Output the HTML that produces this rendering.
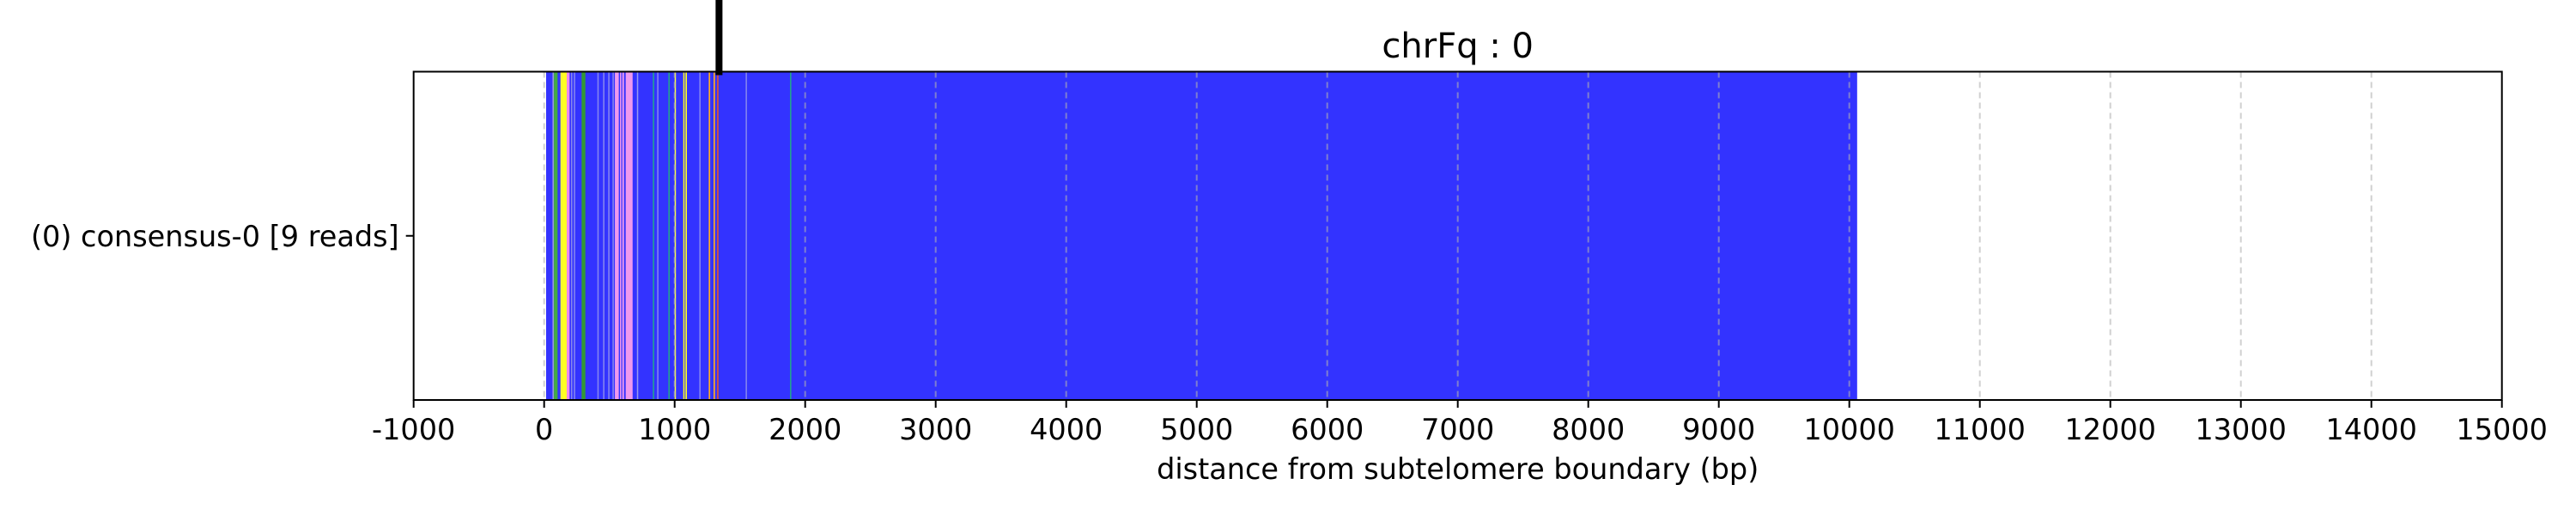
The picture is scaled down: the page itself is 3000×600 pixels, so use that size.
<!DOCTYPE html>
<html><head><meta charset="utf-8"><style>
html,body{margin:0;padding:0;background:#fff;}
svg{display:block;font-family:"DejaVu Sans","Liberation Sans",sans-serif;}
</style></head>
<body>
<svg id="chart" width="3000" height="600" viewBox="0 0 3000 600" xmlns="http://www.w3.org/2000/svg"></svg>
<script>
const xTicks = [-1000,0,1000,2000,3000,4000,5000,6000,7000,8000,9000,10000,11000,12000,13000,14000,15000];
const tickLabels = ["-1000","0","1000","2000","3000","4000","5000","6000","7000","8000","9000","10000","11000","12000","13000","14000","15000"];
const baseStart = 15;
const baseEnd = 10060;
const segStart = [64,75,125,134,173,206,228,287,408,452,491,524,542,581,599,625,711,833,866,952,1000,1066,1083,1189,1261,1298,1325,1544,1884];
const segEnd   = [75,103,134,173,195,210,232,316,412,456,495,528,572,590,612,678,715,837,870,956,1004,1072,1094,1193,1272,1309,1336,1548,1888];
const segColor = ["#9999dd","#44aa44","#ffff33","#ffff22","#ee88ee","#8888ee","#8888ee","#339933","#8888ee","#8888ee","#8888ee","#8888ee","#ee99ee","#ee99ee","#ee99ee","#ee99ee","#9999ee","#22aa88","#8888ee","#22aa88","#ffff44","#ffff22","#ffff22","#8888ee","#ffaa22","#ffaa22","#dd5533","#8888ee","#22aa88"];
const markerPos = 1340;

const NS = "http://www.w3.org/2000/svg";
const svg = document.getElementById("chart");
const L = 481.7, R = 2913.7, T = 83.5, B = 466;
const xMin = -1000, xMax = 15000;
function xs(v){ return L + (v - xMin) / (xMax - xMin) * (R - L); }
function mk(tag, attrs, parent){
  const e = document.createElementNS(NS, tag);
  for (const k in attrs) e.setAttribute(k, attrs[k]);
  (parent || svg).appendChild(e);
  return e;
}
let b = mk("rect", {x: xs(baseStart), y: T, width: xs(baseEnd) - xs(baseStart), height: B - T, fill: "#3333ff"});


for (let i = 0; i < segStart.length; i++) {
  const r = mk("rect", {x: xs(segStart[i]), y: T, width: Math.max(1.5, xs(segEnd[i]) - xs(segStart[i])), height: B - T, fill: segColor[i]});
  
  
}
for (let i = 0; i < xTicks.length; i++) {
  if (xTicks[i] <= xMin || xTicks[i] >= xMax) continue;
  const g = mk("line", {x1: xs(xTicks[i]), x2: xs(xTicks[i]), y1: T, y2: B, stroke: "#b0b0b0", "stroke-opacity": 0.6, "stroke-width": 2, "stroke-dasharray": "7,5"});
  
  
}
const f = mk("rect", {x: L, y: T, width: R - L, height: B - T, fill: "none", stroke: "#000", "stroke-width": 2});


for (let i = 0; i < xTicks.length; i++) {
  const x = xs(xTicks[i]);
  const t = mk("line", {x1: x, x2: x, y1: B, y2: B + 9, stroke: "#000", "stroke-width": 2});
  
  
  const lb = mk("text", {x: x, y: B + 46, "text-anchor": "middle", "font-size": 33.5, fill: "#000"});
  lb.textContent = tickLabels[i];
  
  
}
const yt = mk("line", {x1: L - 9, x2: L, y1: (T + B) / 2, y2: (T + B) / 2, stroke: "#000", "stroke-width": 2});


const yl = mk("text", {x: L - 17, y: (T + B) / 2 + 12, "text-anchor": "end", "font-size": 33.5, fill: "#000"});
yl.textContent = "(0) consensus-0 [9 reads]";


const m = mk("line", {x1: xs(markerPos), x2: xs(markerPos), y1: 0, y2: T + 4, stroke: "#000", "stroke-width": 8});


const ti = mk("text", {x: (L + R) / 2, y: 67, "text-anchor": "middle", "font-size": 40, fill: "#000"});
ti.textContent = "chrFq : 0";


const xl = mk("text", {x: (L + R) / 2, y: 558, "text-anchor": "middle", "font-size": 33.5, fill: "#000"});
xl.textContent = "distance from subtelomere boundary (bp)";


</script>
</body></html>
